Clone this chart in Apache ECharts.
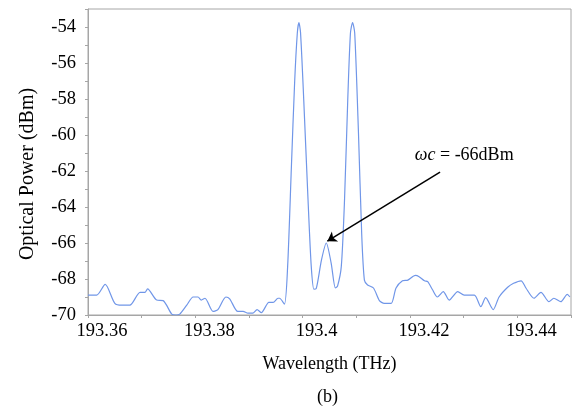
<!DOCTYPE html>
<html>
<head>
<meta charset="utf-8">
<script src="https://cdn.jsdelivr.net/npm/echarts@6/dist/echarts.min.js"></script>
<style>
html,body{margin:0;padding:0;background:#fff;}
#chart{width:574px;height:409px;}
</style>
</head>
<body>
<div id="chart"></div>
<script>
// Wavelength (THz)
var wavelength = [
193.3600,193.3616,193.3632,193.3650,193.3663,193.3678,193.3697,193.3706,193.3711,193.3728,
193.3740,193.3756,193.3764,193.3771,193.3784,193.3796,193.3805,193.3811,193.3818,193.3833,
193.3842,193.3857,193.3864,193.3879,193.3889,193.3898,193.3907,193.3915,193.3923,193.3937,
193.3945,193.3954,193.3957,193.3966,193.3972,193.3979,193.3985,193.3990,193.3993,193.3996,
193.4002,193.4010,193.4016,193.4021,193.4025,193.4035,193.4044,193.4053,193.4061,193.4065,
193.4072,193.4078,193.4084,193.4089,193.4093,193.4097,193.4104,193.4110,193.4115,193.4121,
193.4132,193.4143,193.4152,193.4165,193.4174,193.4186,193.4196,193.4210,193.4217,193.4227,
193.4233,193.4242,193.4251,193.4262,193.4273,193.4289,193.4301,193.4320,193.4332,193.4341,
193.4355,193.4366,193.4382,193.4393,193.4407,193.4416,193.4431,193.4444,193.4459,193.4468,
193.4481,193.4493,193.4498
];
// Optical power (dBm)
var power = [
-68.9,-68.9,-68.3,-69.35,-69.45,-69.45,-68.74,-68.74,-68.55,-69.17,
-69.2,-69.95,-70.0,-69.95,-69.45,-69.0,-69.0,-69.17,-69.07,-69.8,
-69.7,-69.0,-69.1,-69.8,-69.8,-69.9,-69.9,-69.7,-69.87,-69.3,
-69.3,-69.07,-69.07,-69.4,-67.3,-61.76,-57.1,-54.35,-53.76,-54.3,
-58.05,-63.6,-67.3,-68.57,-68.55,-66.95,-66.0,-67.1,-68.5,-68.4,
-67.3,-63.6,-58.05,-54.35,-53.76,-54.35,-59.9,-65.5,-68.06,-68.33,
-68.5,-69.2,-69.35,-69.35,-68.5,-68.1,-68.06,-67.8,-67.87,-68.1,
-68.15,-68.6,-69.0,-68.7,-69.17,-68.7,-68.9,-68.9,-69.54,-69.04,
-69.7,-69.0,-68.46,-68.24,-68.1,-68.5,-69.07,-68.74,-69.26,-69.07,
-69.26,-68.85,-69.0
];
// Annotation
var annotText = '{i|ωc} = -66dBm';
var annotLabelAt = [193.4301, -61.1];
var arrowFrom = [193.4256, -62.06];
var arrowTo = [193.4046, -65.9];
var caption = '(b)';

var serif = "'Liberation Serif','Times New Roman',serif";
var axisGray = '#a6a6a6';

var chart = echarts.init(document.getElementById('chart'));
var seriesData = wavelength.map(function (x, i) { return [x, power[i]]; });

chart.setOption({
  animation: false,
  grid: { left: 88, right: 2, top: 9, bottom: 94, show: true, borderColor: axisGray, borderWidth: 1 },
  xAxis: {
    type: 'value', min: 193.36, max: 193.45, interval: 0.01,
    name: 'Wavelength (THz)', nameLocation: 'middle', nameGap: 40,
    nameTextStyle: { fontFamily: serif, fontSize: 18, color: '#000' },
    axisLine: { show: true, lineStyle: { color: axisGray } },
    axisTick: { show: true, inside: false, length: 3, lineStyle: { color: axisGray } },
    splitLine: { show: false },
    axisLabel: {
      fontFamily: serif, fontSize: 18.5, color: '#000', margin: 7, padding: [0, 0, 0, 28],
      formatter: function (v) {
        var k = Math.round(v * 100);
        if (k % 2 !== 0) return '';
        return String(Number(v.toFixed(2)));
      }
    }
  },
  yAxis: {
    type: 'value', min: -70, max: -53, interval: 1,
    name: 'Optical Power (dBm)', nameLocation: 'middle', nameGap: 50,
    nameTextStyle: { fontFamily: serif, fontSize: 20, color: '#000', padding: [0, 24, 0, 0] },
    axisLine: { show: true, lineStyle: { color: axisGray } },
    axisTick: { show: true, inside: false, length: 3, lineStyle: { color: axisGray } },
    splitLine: { show: false },
    axisLabel: {
      fontFamily: serif, fontSize: 18.5, color: '#000', margin: 12,
      formatter: function (v) {
        var k = Math.round(v);
        if (k % 2 !== 0) return '';
        return String(k);
      }
    }
  },
  series: [{
    type: 'line',
    data: seriesData,
    smooth: 0.25,
    showSymbol: false,
    symbol: 'none',
    lineStyle: { color: '#7096e8', width: 1.2 },
    markLine: {
      silent: true,
      symbol: ['none', 'arrow'],
      symbolSize: 9,
      lineStyle: { color: '#000', width: 1.5, type: 'solid' },
      label: { show: false },
      data: [[{ coord: arrowFrom }, { coord: arrowTo }]]
    },
    markPoint: {
      silent: true,
      symbol: 'circle',
      symbolSize: 0,
      label: {
        show: true, position: 'inside', formatter: annotText,
        fontFamily: serif, fontSize: 18, color: '#000',
        rich: { i: { fontFamily: serif, fontSize: 18, fontStyle: 'italic', color: '#000' } }
      },
      data: [{ coord: annotLabelAt }]
    }
  }],
  graphic: [{
    type: 'text', left: 317, top: 388,
    style: { text: caption, font: "18px 'Liberation Serif','Times New Roman',serif", fill: '#000' }
  }]
});
</script>
</body>
</html>
